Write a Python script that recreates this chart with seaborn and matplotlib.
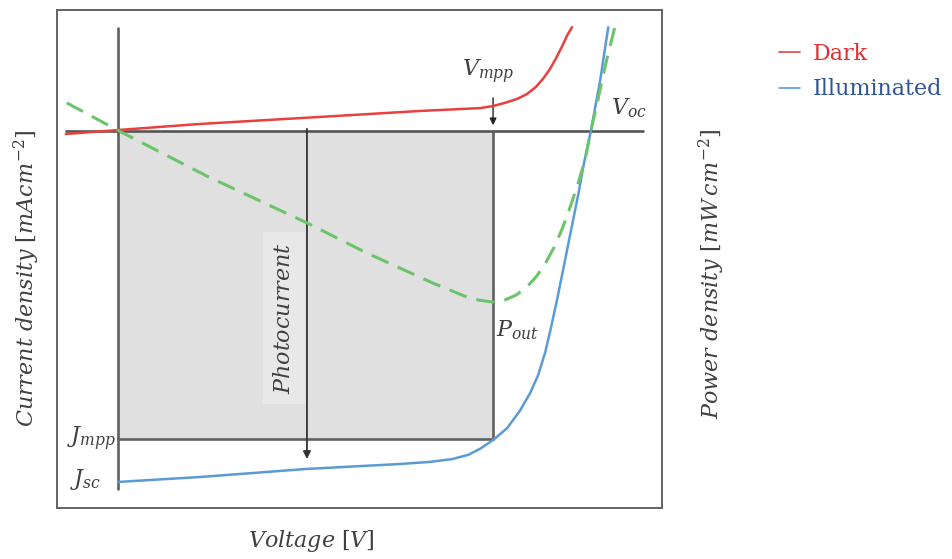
import numpy as np
import pandas as pd
import seaborn as sns
import matplotlib
matplotlib.use("Agg")
import matplotlib.pyplot as plt
from matplotlib.lines import Line2D

# ---------------- data (normalised: V/Voc, J/|Jsc|) ----------------
dark_v = [-0.111, 0.0, 0.174, 0.430, 0.643, 0.770, 0.798, 0.823, 0.849, 0.870, 0.889,
          0.904, 0.919, 0.932, 0.945, 0.955, 0.966]
dark_j = [-0.0085, 0.0028, 0.020, 0.040, 0.057, 0.065, 0.071, 0.080, 0.091, 0.105, 0.125,
          0.148, 0.176, 0.207, 0.241, 0.270, 0.295]

illum_v = [0.0, 0.174, 0.402, 0.600, 0.664, 0.711, 0.745, 0.770, 0.798, 0.828, 0.855, 0.877,
           0.894, 0.909, 0.921, 0.934, 0.949, 0.964, 0.979, 0.991, 1.006, 1.026, 1.043]
illum_j = [-0.997, -0.983, -0.960, -0.946, -0.940, -0.932, -0.920, -0.903, -0.878, -0.844,
           -0.795, -0.744, -0.693, -0.628, -0.560, -0.480, -0.381, -0.281, -0.182, -0.094,
           0.0, 0.145, 0.295]

power_v = [-0.109, -0.002, 0.189, 0.402, 0.530, 0.670, 0.743, 0.766, 0.798, 0.823, 0.847,
           0.870, 0.891, 0.911, 0.928, 0.945, 0.962, 0.979, 0.994, 1.006, 1.021, 1.038, 1.057]
power_p = [0.080, 0.003, -0.128, -0.261, -0.347, -0.432, -0.472, -0.480, -0.486, -0.480, -0.466,
           -0.443, -0.412, -0.372, -0.330, -0.278, -0.216, -0.148, -0.080, 0.0, 0.088, 0.193, 0.295]

v_mpp = 0.798
j_mpp = -0.875
v_photo = 0.402
series_labels = ["Dark", "Illuminated"]

# ---------------- style ----------------
sns.set_style("white")
plt.rcParams["font.family"] = ["DejaVu Serif"]
plt.rcParams["mathtext.fontset"] = "dejavuserif"

RED = "#e8403f"
BLUE = "#5b9bd5"
GREEN = "#6cc46a"
GRAY = "#606060"
TXT = "#404040"

fig = plt.figure(figsize=(9.52, 5.59), dpi=100)
ax = fig.add_axes([57 / 952, 51 / 559, 605 / 952, 498 / 559])
ax.set_xlim(-0.1298, 1.1574)
ax.set_ylim(-1.071, 0.3438)

# shaded power rectangle
ax.fill_between([0, v_mpp], [j_mpp, j_mpp], [0, 0], color="#e0e0e0", lw=0, zorder=1)

# axes lines
ax.plot([0, 0], [0.293, -1.017], color=GRAY, lw=1.9, zorder=2)
ax.plot([-0.111, 1.117], [0, 0], color="#555555", lw=1.9, zorder=2)
ax.plot([v_mpp, v_mpp], [0, j_mpp], color=GRAY, lw=1.9, zorder=2)
ax.plot([0, v_mpp], [j_mpp, j_mpp], color=GRAY, lw=1.9, zorder=2)

# curves
df_dark = pd.DataFrame({"V": dark_v, "J": dark_j})
df_ill = pd.DataFrame({"V": illum_v, "J": illum_j})
df_pow = pd.DataFrame({"V": power_v, "P": power_p})
sns.lineplot(data=df_dark, x="V", y="J", ax=ax, color=RED, lw=1.8, sort=False, zorder=4)
sns.lineplot(data=df_ill, x="V", y="J", ax=ax, color=BLUE, lw=1.8, sort=False, zorder=4)

ax2 = ax.twinx()
ax2.set_ylim(ax.get_ylim())
sns.lineplot(data=df_pow, x="V", y="P", ax=ax2, color=GREEN, lw=2.2, sort=False, zorder=4)
ax2.lines[0].set_dashes((6, 3.3))

# arrows
ax.annotate("", xy=(v_photo, -0.940), xytext=(v_photo, 0.014),
            arrowprops=dict(arrowstyle="-|>", color="#333333", lw=1.3, mutation_scale=11),
            zorder=3)
ax.annotate("", xy=(v_mpp, 0.0085), xytext=(v_mpp, 0.102),
            arrowprops=dict(arrowstyle="-|>", color="#222222", lw=1.0, mutation_scale=10),
            zorder=3)

# annotations
fs = 16
ax.text(0.787, 0.168, r"$V_{mpp}$", fontsize=fs, color=TXT, ha="center", va="center")
ax.text(1.049, 0.065, r"$V_{oc}$", fontsize=fs, color=TXT, ha="left", va="center")
ax.text(0.804, -0.565, r"$P_{out}$", fontsize=fs, color=TXT, ha="left", va="center")
ax.text(-0.005, -0.876, r"$J_{mpp}$", fontsize=fs, color=TXT, ha="right", va="center")
ax.text(-0.036, -0.99, r"$J_{sc}$", fontsize=fs, color=TXT, ha="right", va="center")
ax.text(0.353, -0.53, r"$Photocurrent$", fontsize=fs, color=TXT, rotation=90,
        ha="center", va="center",
        bbox=dict(boxstyle="square,pad=0.45", fc="#e8e8e8", ec="none"), zorder=2)

# axis labels
ax.set_xticks([])
ax.set_yticks([])
ax2.set_yticks([])
ax.set_xlabel(r"$Voltage\ [V]$", fontsize=fs, color=TXT)
ax.set_ylabel(r"$Current\ density\ [mAcm^{-2}]$", fontsize=fs, color=TXT)
ax2.set_ylabel(r"$Power\ density\ [mW\,cm^{-2}]$", fontsize=fs, color=TXT)
for lab in (ax.xaxis.label, ax.yaxis.label, ax2.yaxis.label):
    lab.set_verticalalignment("center")
    lab.set_horizontalalignment("center")
ax.xaxis.set_label_coords((311 - 57) / 605, (508 - 541) / 498)
ax.yaxis.set_label_coords((27 - 57) / 605, (508 - 278) / 498)
ax2.yaxis.set_label_coords((712 - 57) / 605, (508 - 274) / 498)

for a in (ax, ax2):
    for s in a.spines.values():
        s.set_color("#666666")
        s.set_linewidth(1.3)

# legend
handles = [Line2D([0], [0], color=RED, lw=1.2), Line2D([0], [0], color=BLUE, lw=1.2)]
ax2.legend(handles, series_labels, loc="upper left", bbox_to_anchor=(759 / 952, 1 - 23 / 559),
           bbox_transform=fig.transFigure, frameon=False, fontsize=16, handlelength=0.95,
           handletextpad=0.55, labelspacing=0.6, labelcolor=["#e03030", "#2f5597"])

fig.savefig("out.png", dpi=100)
